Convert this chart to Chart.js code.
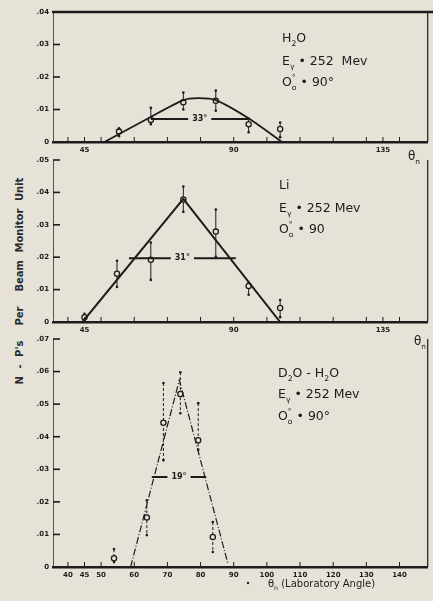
<!DOCTYPE html>
<html lang="en">
<head>
<meta charset="UTF-8">
<title>N-P's per Beam Monitor Unit</title>
<script src="https://cdn.jsdelivr.net/npm/chart.js"></script>
<style>
  body { margin: 0; background: #e7e2d7; width: 433px; height: 601px; overflow: hidden; position: relative; font-family: "DejaVu Sans", sans-serif; }
  canvas { position: absolute; left: 0; }
  #c1 { top: 0; }
  #c2 { top: 142px; }
  #c3 { top: 322px; }
  #ytitle { position: absolute; left: -92px; top: 274px; width: 224px; height: 14px; line-height: 14px;
            text-align: center; white-space: nowrap; transform: rotate(-90deg); font-size: 10px; font-weight: bold;
            color: #2a2a2a; word-spacing: 4px; }
</style>
</head>
<body>
<div id="ytitle">N - P's &nbsp;Per &nbsp;Beam Monitor Unit</div>
<canvas id="c1" width="433" height="168"></canvas>
<canvas id="c2" width="433" height="208"></canvas>
<canvas id="c3" width="433" height="279"></canvas>
<script>
// --- H2O panel (lab angle in degrees, counts per monitor unit)
const fit1X = [51, 64.4, 74.8, 79.3, 84.6, 94.8, 104.6];
const fit1Y = [0, 0.0074, 0.0129, 0.0135, 0.0129, 0.0071, 0];
const pts1X = [55.4, 65, 74.8, 84.6, 94.5, 104];
const pts1Y = [0.0032, 0.0068, 0.0122, 0.0127, 0.0055, 0.004];
const lo1 = [0.0018, 0.0055, 0.0100, 0.0096, 0.0030, 0.0015];
const hi1 = [0.0042, 0.0105, 0.0152, 0.0158, 0.0072, 0.0060];

// --- Li panel
const fit2X = [44.4, 74.8, 104];
const fit2Y = [0, 0.038, 0];
const pts2X = [45, 54.8, 65, 74.8, 84.6, 94.5, 104];
const pts2Y = [0.0015, 0.0149, 0.0192, 0.0378, 0.0279, 0.0111, 0.0043];
const lo2 = [0.0005, 0.0108, 0.0130, 0.0340, 0.0201, 0.0084, 0.0015];
const hi2 = [0.0025, 0.0189, 0.0245, 0.0418, 0.0347, 0.0121, 0.0068];

// --- D2O - H2O panel
const fit3X = [58.9, 73.6, 88.2];
const fit3Y = [0, 0.0574, 0.0012];
const pts3X = [53.9, 63.8, 68.8, 73.9, 79.3, 83.7];
const pts3Y = [0.0027, 0.0152, 0.0443, 0.0531, 0.0389, 0.0092];
const lo3 = [0.0015, 0.0098, 0.0328, 0.0472, 0.0360, 0.0046];
const hi3 = [0.0055, 0.0205, 0.0565, 0.0598, 0.0503, 0.0138];

// half-width bars: [from, to, height, label]
const width1 = [65, 94.5, 0.0071, '33°'];
const width2 = [58.4, 90.6, 0.0197, '31°'];
const width3 = [65.3, 81.7, 0.0276, '19°'];

const xTicksTop = [40, 45, 50, 60, 70, 80, 90, 100, 110, 120, 130, 135, 140];
const xLabelsTop = [45, 90, 135];
const xTicksBottom = [40, 45, 50, 60, 70, 80, 90, 100, 110, 120, 130, 140];

const ink = '#1c1c1c';
const paper = '#e7e2d7';

function pairs(xs, ys) { return xs.map((x, i) => ({ x: x, y: ys[i] })); }

function rich(ctx, x, y, parts, size) {
    parts.forEach(p => {
        const small = p[1] !== '';
        ctx.font = (small ? size * 0.62 : size) + 'px "DejaVu Sans"';
        const dy = p[1] === 'sub' ? size * 0.3 : p[1] === 'sup' ? -size * 0.45 : 0;
        ctx.fillText(p[0], x, y + dy);
        if (!p[2]) x += ctx.measureText(p[0]).width;
    });
}

function deco(cfg) {
    return {
        id: 'deco',
        beforeDatasetsDraw(chart) {
            const { ctx, scales: { x, y } } = chart;
            ctx.save();
            ctx.strokeStyle = ink; ctx.fillStyle = ink; ctx.lineWidth = 1;
            if (cfg.dashed) ctx.setLineDash([3, 2]);
            cfg.xs.forEach((v, i) => {
                const px = x.getPixelForValue(v);
                const t = y.getPixelForValue(cfg.hi[i]), b = y.getPixelForValue(cfg.lo[i]);
                ctx.beginPath(); ctx.moveTo(px, t); ctx.lineTo(px, b); ctx.stroke();
                [t, b].forEach(py => { ctx.beginPath(); ctx.arc(px, py, 1.3, 0, Math.PI * 2); ctx.fill(); });
            });
            ctx.restore();
        },
        afterDatasetsDraw(chart) {
            const { ctx, chartArea: a, scales: { x, y } } = chart;
            ctx.save();
            ctx.strokeStyle = ink; ctx.fillStyle = ink;
            // inward tick marks
            ctx.lineWidth = 1.6;
            y.ticks.forEach(t => {
                const py = y.getPixelForValue(t.value);
                ctx.beginPath(); ctx.moveTo(a.left, py); ctx.lineTo(a.left + 7, py); ctx.stroke();
            });
            ctx.lineWidth = 1;
            x.ticks.forEach(t => {
                const px = x.getPixelForValue(t.value);
                ctx.beginPath(); ctx.moveTo(px, a.bottom); ctx.lineTo(px, a.bottom - 5); ctx.stroke();
            });
            // right frame
            ctx.lineWidth = 1.2;
            ctx.beginPath(); ctx.moveTo(a.right, a.top); ctx.lineTo(a.right, a.bottom); ctx.stroke();
            if (cfg.topRule) {
                ctx.lineWidth = 2.5;
                ctx.beginPath(); ctx.moveTo(a.left - 1, a.top); ctx.lineTo(433, a.top); ctx.stroke();
            }
            // half-width bar
            const w = cfg.width;
            const x1 = x.getPixelForValue(w[0]), x2 = x.getPixelForValue(w[1]), py = y.getPixelForValue(w[2]);
            const mid = (x1 + x2) / 2;
            ctx.font = 'bold 8px "DejaVu Sans"';
            const half = ctx.measureText(w[3]).width / 2 + 4;
            ctx.lineWidth = 2;
            ctx.beginPath(); ctx.moveTo(x1, py); ctx.lineTo(mid - half, py);
            ctx.moveTo(mid + half, py); ctx.lineTo(x2, py); ctx.stroke();
            ctx.textAlign = 'center'; ctx.textBaseline = 'middle';
            ctx.fillText(w[3], mid, py);
            // panel notes
            ctx.textAlign = 'left'; ctx.textBaseline = 'alphabetic';
            cfg.notes.forEach(n => rich(ctx, n[0], n[1], n[2], 12.5));
            if (cfg.theta) {
                rich(ctx, cfg.theta[0], cfg.theta[1], [['θ', ''], ['n', 'sub']], 12);
            }
            if (cfg.caption) {
                ctx.beginPath(); ctx.arc(248, cfg.caption, 1.2, 0, Math.PI * 2); ctx.fill();
                rich(ctx, 268, cfg.caption + 4, [['θ', ''], ['n', 'sub'], [' (Laboratory Angle)', '']], 10);
            }
            ctx.restore();
        }
    };
}

function makePanel(id, opt) {
    const canvasH = document.getElementById(id).height;
    return new Chart(document.getElementById(id), {
        type: 'scatter',
        data: {
            datasets: [
                { data: pairs(opt.fitX, opt.fitY), showLine: true, borderColor: ink, borderWidth: opt.lineW,
                  borderDash: opt.dash, pointRadius: 0, tension: opt.tension },
                { data: pairs(opt.ptsX, opt.ptsY), pointRadius: 2.6, pointBorderWidth: 1.3,
                  pointBorderColor: ink, pointBackgroundColor: paper }
            ]
        },
        options: {
            responsive: false,
            animation: false,
            layout: { padding: { top: opt.padTop, left: 0, right: 1, bottom: 0 } },
            plugins: { legend: { display: false }, tooltip: { enabled: false } },
            scales: {
                x: {
                    type: 'linear', min: 35.5, max: 148.5,
                    afterBuildTicks: s => { s.ticks = opt.xTicks.map(v => ({ value: v })); },
                    afterFit: s => { s.height = canvasH - opt.bottom; },
                    grid: { display: false, tickLength: 0 },
                    border: { display: true, color: ink, width: 2.5 },
                    ticks: { color: ink, padding: 4, maxRotation: 0, autoSkip: false,
                             font: { size: 7, weight: 'bold', family: 'DejaVu Sans' },
                             callback: v => opt.xLabels.includes(v) ? String(v) : '' }
                },
                y: {
                    min: 0, max: opt.yMax,
                    afterFit: s => { s.width = 53; },
                    grid: { display: false, tickLength: 0 },
                    border: { display: true, color: '#555', width: 1, dash: [5, 3] },
                    ticks: { stepSize: 0.01, color: ink, padding: 4,
                             font: { size: 7, weight: 'bold', family: 'DejaVu Sans' },
                             callback: v => v === 0 ? '0' : v.toFixed(2).slice(1) }
                }
            }
        },
        plugins: [deco(opt.deco)]
    });
}

makePanel('c1', {
    fitX: fit1X, fitY: fit1Y, ptsX: pts1X, ptsY: pts1Y, lineW: 1.8, dash: [], tension: 0.25,
    padTop: 12, bottom: 142, yMax: 0.04, xTicks: xTicksTop, xLabels: xLabelsTop,
    deco: { xs: pts1X, lo: lo1, hi: hi1, width: width1, topRule: true, theta: [408, 160],
            notes: [[282, 42, [['H', ''], ['2', 'sub'], ['O', '']]],
                    [282, 65, [['E', ''], ['γ', 'sub'], [' • 252  Mev', '']]],
                    [282, 86, [['O', ''], ['°', 'sup', true], ['o', 'sub'], [' • 90°', '']]]] }
});

makePanel('c2', {
    fitX: fit2X, fitY: fit2Y, ptsX: pts2X, ptsY: pts2Y, lineW: 2, dash: [], tension: 0,
    padTop: 18, bottom: 180, yMax: 0.05, xTicks: xTicksTop, xLabels: xLabelsTop,
    deco: { xs: pts2X, lo: lo2, hi: hi2, width: width2, theta: [414, 203],
            notes: [[279, 47, [['Li', '']]],
                    [279, 70, [['E', ''], ['γ', 'sub'], [' • 252 Mev', '']]],
                    [279, 91, [['O', ''], ['°', 'sup', true], ['o', 'sub'], [' • 90', '']]]] }
});

makePanel('c3', {
    fitX: fit3X, fitY: fit3Y, ptsX: pts3X, ptsY: pts3Y, lineW: 1.2, dash: [7, 2, 1, 2], tension: 0,
    padTop: 17, bottom: 245, yMax: 0.07, xTicks: xTicksBottom, xLabels: xTicksBottom,
    deco: { xs: pts3X, lo: lo3, hi: hi3, width: width3, dashed: true, caption: 261,
            notes: [[278, 55, [['D', ''], ['2', 'sub'], ['O - H', ''], ['2', 'sub'], ['O', '']]],
                    [278, 76, [['E', ''], ['γ', 'sub'], [' • 252 Mev', '']]],
                    [278, 98, [['O', ''], ['°', 'sup', true], ['o', 'sub'], [' • 90°', '']]]] }
});
</script>
</body>
</html>
